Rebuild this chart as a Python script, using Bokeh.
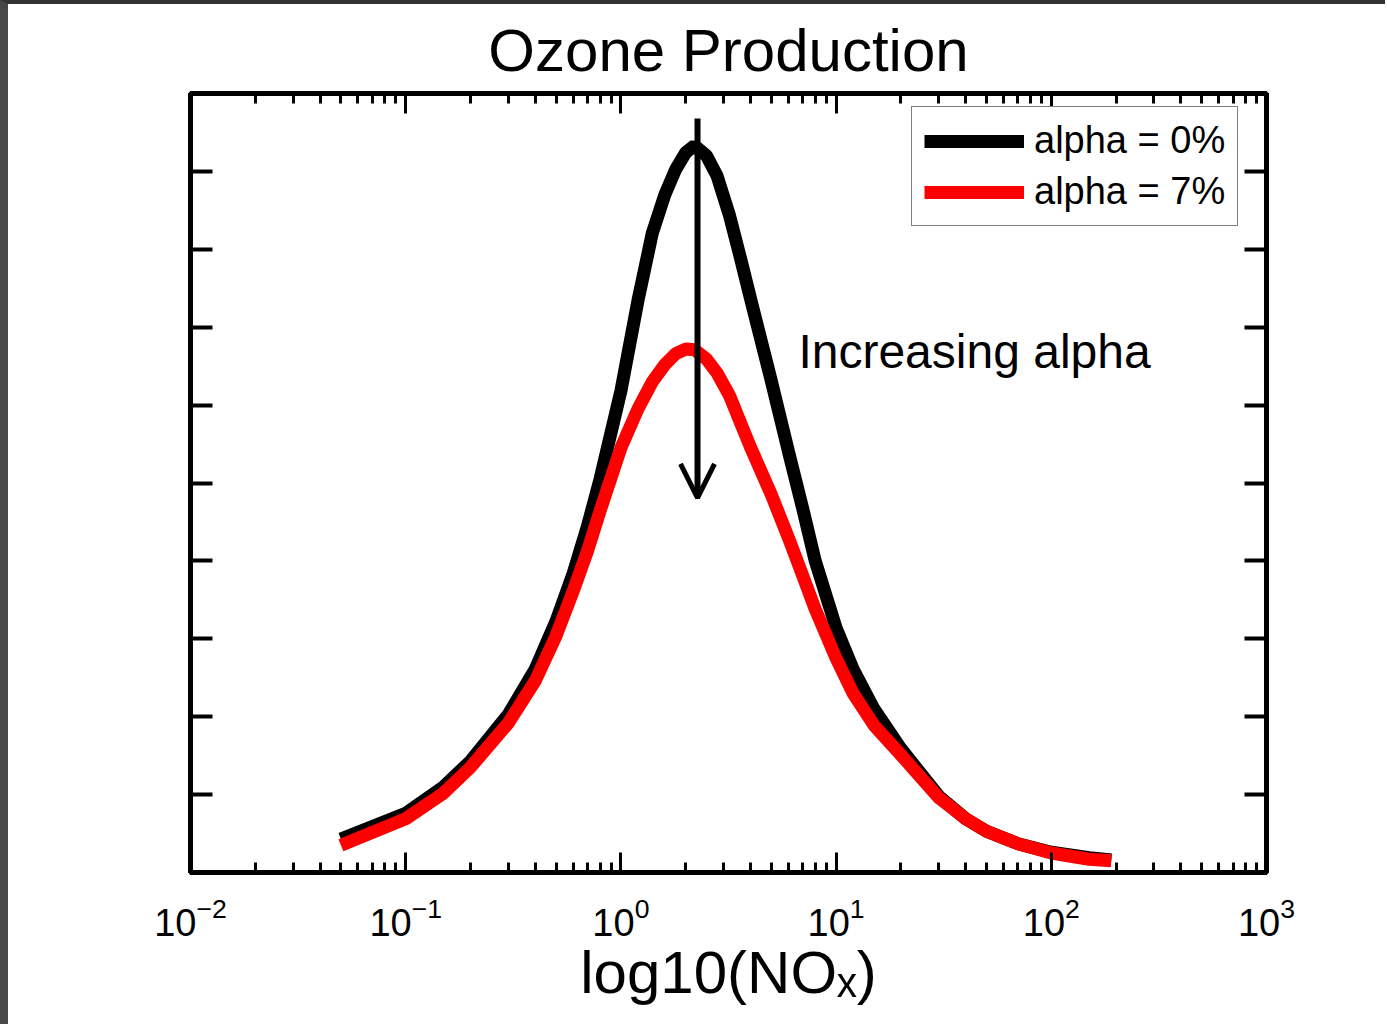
from bokeh.plotting import figure
from bokeh.models import (Range1d, FixedTicker, LogAxis, LinearAxis, Label, Arrow, OpenHead,
                          CustomJSTickFormatter, LogTickFormatter)
from bokeh.embed import file_html
from bokeh.resources import INLINE

# ---------------- data ----------------
nox = [0.05, 0.1, 0.15, 0.2, 0.3, 0.4, 0.5, 0.6, 0.7, 0.8, 1.0, 1.2, 1.4, 1.6, 1.8,
       2.0, 2.2, 2.5, 2.8, 3.2, 3.6, 4.0, 5.0, 6.0, 7.0, 8.0, 10, 12, 15, 20, 30,
       40, 50, 70, 100, 150, 190]
prod_alpha0 = [0.043, 0.076, 0.110, 0.143, 0.203, 0.261, 0.323, 0.384, 0.445, 0.505,
               0.618, 0.734, 0.821, 0.870, 0.903, 0.924, 0.933, 0.920, 0.894, 0.843,
               0.788, 0.737, 0.631, 0.541, 0.467, 0.400, 0.314, 0.261, 0.210, 0.159,
               0.098, 0.069, 0.053, 0.037, 0.026, 0.019, 0.016]
prod_alpha7 = [0.035, 0.069, 0.102, 0.135, 0.192, 0.246, 0.304, 0.361, 0.413, 0.464,
               0.545, 0.595, 0.630, 0.652, 0.666, 0.672, 0.671, 0.659, 0.641, 0.612,
               0.577, 0.546, 0.485, 0.430, 0.381, 0.338, 0.275, 0.230, 0.189, 0.151,
               0.096, 0.069, 0.053, 0.037, 0.025, 0.017, 0.015]
series_labels = ["alpha = 0%", "alpha = 7%"]

x_major = [0.01, 0.1, 1, 10, 100, 1000]
x_minor = [m * 10.0 ** d for d in range(-2, 3) for m in range(2, 10)]
y_major = [0.1, 0.2, 0.3, 0.4, 0.5, 0.6, 0.7, 0.8, 0.9]

title_text = "Ozone Production"
xlabel_text = "log10(NO\u2093)"
annot_text = "Increasing alpha"
annot_x, annot_y = 6.68, 0.669
arrow_x, arrow_y0, arrow_y1 = 2.27, 0.968, 0.481

FONT = "Liberation Sans"

# ---------------- figure ----------------
p = figure(x_axis_type="log", x_range=Range1d(0.01, 1000), y_range=Range1d(0, 1),
           frame_width=1076, frame_height=779,
           min_border_left=182, min_border_right=119,
           min_border_top=89, min_border_bottom=152,
           output_backend="svg", toolbar_location=None,
           background_fill_color="white", border_fill_color="white")
p.styles = {"border-left": "8px solid #484848", "border-top": "4px solid #333333"}
p.xgrid.visible = False
p.ygrid.visible = False
p.outline_line_color = "black"
p.outline_line_width = 5

bottom_axis = p.below[0]
left_axis = p.left[0]
top_axis = LogAxis()
right_axis = LinearAxis()
p.add_layout(top_axis, "above")
p.add_layout(right_axis, "right")

x_ticker = FixedTicker(ticks=x_major, minor_ticks=x_minor)
y_ticker = FixedTicker(ticks=y_major, minor_ticks=[])
blank = CustomJSTickFormatter(code="return ''")

for ax in [bottom_axis, top_axis]:
    ax.ticker = x_ticker
    ax.major_tick_in = 20
    ax.major_tick_out = 0
    ax.minor_tick_in = 10
    ax.minor_tick_out = 0
    ax.major_tick_line_width = 3
    ax.minor_tick_line_width = 3
    ax.minor_tick_line_color = "black"
for ax in [left_axis, right_axis]:
    ax.ticker = y_ticker
    ax.major_tick_in = 22
    ax.major_tick_out = 0
    ax.minor_tick_line_color = None
    ax.major_tick_line_width = 4
for ax in [bottom_axis, top_axis, left_axis, right_axis]:
    ax.axis_line_width = 5
    ax.axis_line_color = "black"
    ax.major_tick_line_color = "black"
for ax in [top_axis, left_axis, right_axis]:
    ax.formatter = blank
    ax.major_label_text_font_size = "4px"
    ax.major_label_standoff = 0
    ax.axis_label = None

# bottom axis: 10^n labels and axis title
bottom_axis.formatter = LogTickFormatter()
bottom_axis.major_label_text_font = FONT
bottom_axis.major_label_text_font_size = "38px"
bottom_axis.major_label_text_color = "black"
bottom_axis.major_label_standoff = 24
bottom_axis.axis_label = xlabel_text
bottom_axis.axis_label_text_font = FONT
bottom_axis.axis_label_text_font_size = "60px"
bottom_axis.axis_label_text_font_style = "normal"
bottom_axis.axis_label_text_color = "black"
bottom_axis.axis_label_standoff = 0

# title
p.title.text = title_text
p.title.text_font = FONT
p.title.text_font_size = "60px"
p.title.text_font_style = "normal"
p.title.text_color = "black"
p.title.align = "center"
p.title.text_line_height = 0.8
p.title.standoff = 20

# ---------------- curves ----------------
p.line(nox, prod_alpha0, line_color="black", line_width=13, legend_label=series_labels[0])
p.line(nox, prod_alpha7, line_color="#ff0000", line_width=13, legend_label=series_labels[1])

# ---------------- arrow + annotation ----------------
p.add_layout(Arrow(end=OpenHead(size=34, line_width=5, line_color="black"),
                   x_start=arrow_x, y_start=arrow_y0, x_end=arrow_x, y_end=arrow_y1,
                   line_width=6, line_color="black"))
p.add_layout(Label(x=annot_x, y=annot_y, text=annot_text, text_font=FONT,
                   text_font_size="48px", text_color="black",
                   text_align="left", text_baseline="middle"))

# ---------------- legend ----------------
lg = p.legend[0]
lg.location = (721, 646)
lg.label_text_font = FONT
lg.label_text_font_size = "38px"
lg.label_text_color = "black"
lg.glyph_width = 100
lg.glyph_height = 42
lg.label_standoff = 10
lg.padding = 12
lg.spacing = 8
lg.margin = 0
lg.border_line_color = "black"
lg.border_line_width = 1.5
lg.background_fill_color = "white"
lg.background_fill_alpha = 1.0

open("out.html", "w").write(file_html(p, INLINE))
